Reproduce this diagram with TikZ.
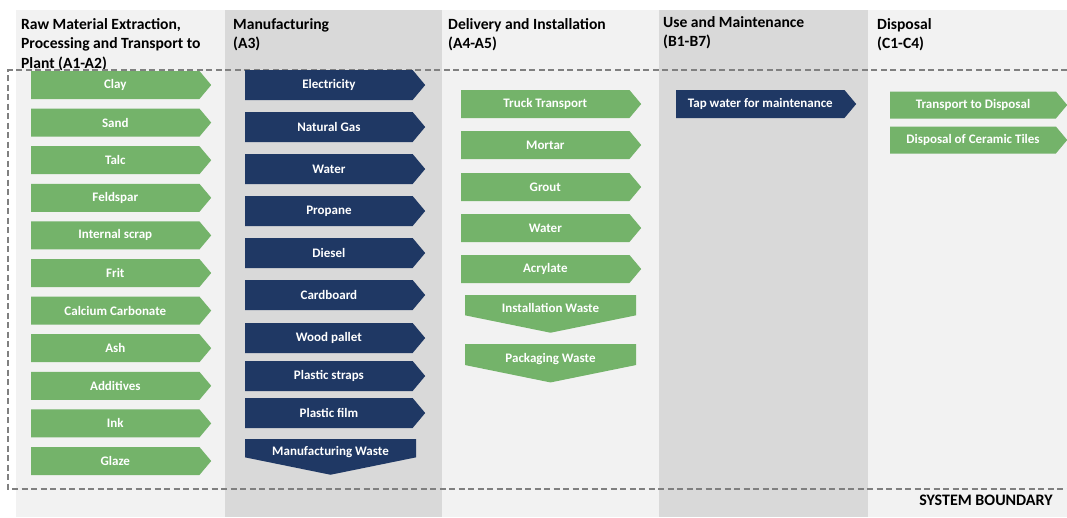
\documentclass[tikz,border=0pt]{standalone}
\usepackage{fontspec}
\setmainfont{Carlito}
\usetikzlibrary{shapes.symbols}
\definecolor{inflow}{HTML}{74B36A}
\definecolor{energy}{HTML}{1F3864}
\definecolor{bandlight}{HTML}{F2F2F2}
\definecolor{banddark}{HTML}{D9D9D9}
\definecolor{boundary}{HTML}{808080}
\tikzset{
  flow/.style={%
    shape=signal, signal to=east, signal pointer angle=100,
    minimum width=180pt, minimum height=28pt, inner sep=0pt,
    text=white, anchor=west,
    font=\bfseries\fontsize{13}{15}\selectfont
  },
  greenflow/.style={flow, fill=inflow},
  blueflow/.style={flow, fill=energy},
  waste/.style={%
    shape=signal, signal to=south, signal pointer angle=157,
    minimum width=171pt, minimum height=30pt, inner sep=0pt,
    text height=15pt, text depth=0pt,
    text=white, anchor=north,
    font=\bfseries\fontsize{13}{15}\selectfont
  },
  stage/.style={anchor=north west, align=left, inner sep=0pt,
    font=\bfseries\fontsize{15.6}{19.5}\selectfont},
  limit/.style={boundary, line width=1.2pt, dash pattern=on 6pt off 3.5pt}
}
\begin{document}
\begin{tikzpicture}[x=1pt,y=-1pt]
\useasboundingbox (0,0) rectangle (1067,517);
% stage bands
\fill[bandlight] (16,10) rectangle (225,517);
\fill[banddark] (225,10) rectangle (442,517);
\fill[bandlight] (442,10) rectangle (659,517);
\fill[banddark] (659,10) rectangle (868,517);
\fill[bandlight] (868,10) rectangle (1067,517);
% stage titles
\node[stage] (rawtitle) at (21,18) {Raw Material Extraction,\\Processing and Transport to\\Plant (A1-A2)};
\node[stage] (mfgtitle) at (233,18) {Manufacturing\\(A3)};
\node[stage] (insttitle) at (448,18) {Delivery and Installation\\(A4-A5)};
\node[stage] (usetitle) at (663,16) {Use and Maintenance\\(B1-B7)};
\node[stage] (eoltitle) at (877,18) {Disposal\\(C1-C4)};
% system boundary
\draw[limit] (1067,70) -- (8,70) -- (8,489) -- (1067,489);
\node[font=\bfseries\fontsize{16}{19}\selectfont, inner sep=0pt] (sysb) at (986,500) {SYSTEM BOUNDARY};
% raw materials
\foreach \name [count=\i from 0] in {Clay,Sand,Talc,Feldspar,Internal scrap,Frit,Calcium Carbonate,Ash,Additives,Ink,Glaze}
  \node[greenflow] (raw\i) at (31,{85+37.6*\i}) {\name};
% manufacturing inputs
\foreach \name/\y [count=\i] in {Electricity/85,Natural Gas/127,Water/169,Propane/211,Diesel/253,Cardboard/295,Wood pallet/338,Plastic straps/376,Plastic film/413}
  \node[blueflow, minimum height=30pt] (mfg\i) at (245,\y) {\name};
\node[waste, fill=energy] (mfgwaste) at (330.5,439) {Manufacturing Waste};
% delivery and installation
\foreach \name/\y [count=\i] in {Truck Transport/104,Mortar/145,Grout/187,Water/228,Acrylate/269}
  \node[greenflow] (inst\i) at (461,\y) {\name};
\node[waste, fill=inflow] (instwaste) at (550.5,295) {Installation Waste};
\node[waste, fill=inflow] (packwaste) at (550.5,344) {Packaging Waste};
% use stage
\node[blueflow] (use1) at (676,104) {Tap water for maintenance};
% end of life
\node[greenflow, minimum width=177pt, minimum height=27pt] (eol1) at (890,105) {Transport to Disposal};
\node[greenflow, minimum width=177pt, minimum height=27pt] (eol2) at (890,140) {Disposal of Ceramic Tiles};
\end{tikzpicture}
\end{document}
